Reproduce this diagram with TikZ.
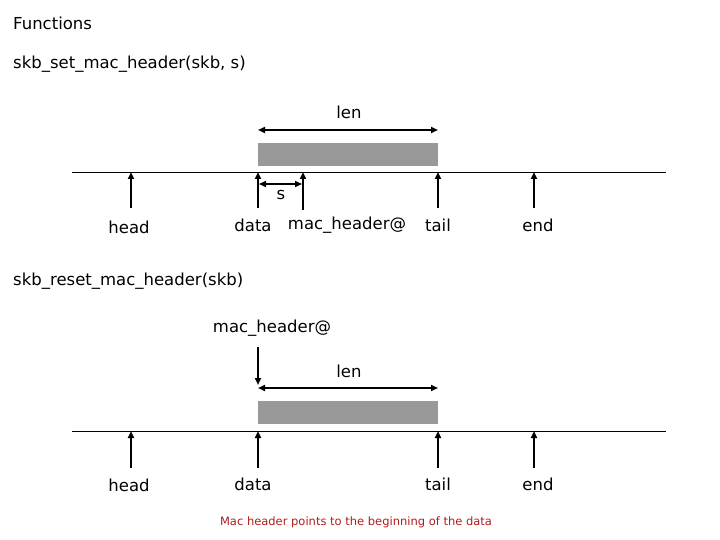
\documentclass[tikz,border=0pt]{standalone}
\usepackage{fontspec}
\setmainfont{DejaVu Sans}
\usetikzlibrary{arrows.meta}
\definecolor{bufgray}{HTML}{999999}
\definecolor{notered}{HTML}{B01C1C}
\tikzset{
  lbl/.style={font=\fontsize{16.5}{19}\selectfont, inner sep=0pt},
  ptr/.style={line width=2pt, -{Triangle[length=7pt,width=6pt]}},
  span/.style={line width=2pt, {Triangle[length=7pt,width=6pt]}-{Triangle[length=7pt,width=6pt]}},
  buf/.style={fill=bufgray, draw=none},
}
\begin{document}
\begin{tikzpicture}[x=1pt,y=-1pt]
    \useasboundingbox (0,0) rectangle (720,540);

    % Titles
    \node[lbl, anchor=west] (fn) at (13,23) {Functions};
    \node[lbl, anchor=west] (set) at (13,64) {skb\_set\_mac\_header(skb, s)};
    \node[lbl, anchor=west] (reset) at (13,281) {skb\_reset\_mac\_header(skb)};

    % ---- skb_set_mac_header ----
    \draw[buf] (258,143) rectangle (438,166);
    \draw (72,172) -- (666,172);
    \coordinate (lenL) at (258,130);
    \coordinate (lenR) at (438,130);
    \draw[span] (lenL) -- (lenR);
    \node[lbl] (len) at (349,112) {len};

    % pointers
    \foreach \nm/\x in {head/131, data/258, tail/438, end/534}{
      \coordinate (\nm Top) at (\x,172);
      \coordinate (\nm Bot) at (\x,208);
      \draw[ptr] (\nm Bot) -- (\nm Top);
    }
    \node[lbl] (headT) at (129,227) {head};
    \node[lbl] (dataT) at (253,225) {data};
    \node[lbl] (macT) at (347,225) {mac\_header@};
    \node[lbl] (tailT) at (438,225) {tail};
    \node[lbl] (endT) at (538,225) {end};

    \coordinate (macTop) at (303,172);
    \coordinate (macBot) at (303,210);
    \draw[ptr] (macBot) -- (macTop);

    % offset s
    \coordinate (sL) at (259,184);
    \coordinate (sR) at (302,184);
    \draw[span, line width=1.5pt] (sL) -- (sR);
    \node[lbl] (s) at (281,195) {s};

    % ---- skb_reset_mac_header ----
    \node[lbl] (mac2T) at (272,328) {mac\_header@};
    \coordinate (mac2Top) at (258,347);
    \coordinate (mac2Bot) at (258,385);
    \draw[ptr] (mac2Top) -- (mac2Bot);

    \coordinate (len2L) at (258,388);
    \coordinate (len2R) at (438,388);
    \draw[span] (len2L) -- (len2R);
    \node[lbl] (len2) at (349,371) {len};

    \draw[buf] (258,401) rectangle (438,424);
    \draw (72,431) -- (666,431);

    \foreach \nm/\x in {head2/131, data2/258, tail2/438, end2/534}{
      \coordinate (\nm Top) at (\x,431);
      \coordinate (\nm Bot) at (\x,468);
      \draw[ptr] (\nm Bot) -- (\nm Top);
    }
    \node[lbl] (head2T) at (129,485) {head};
    \node[lbl] (data2T) at (253,484) {data};
    \node[lbl] (tail2T) at (438,484) {tail};
    \node[lbl] (end2T) at (538,484) {end};

    % note
    \node[lbl, text=notered, font=\fontsize{11.5}{13}\selectfont] (note) at (356,522) {Mac header points to the beginning of the data};
\end{tikzpicture}
\end{document}
